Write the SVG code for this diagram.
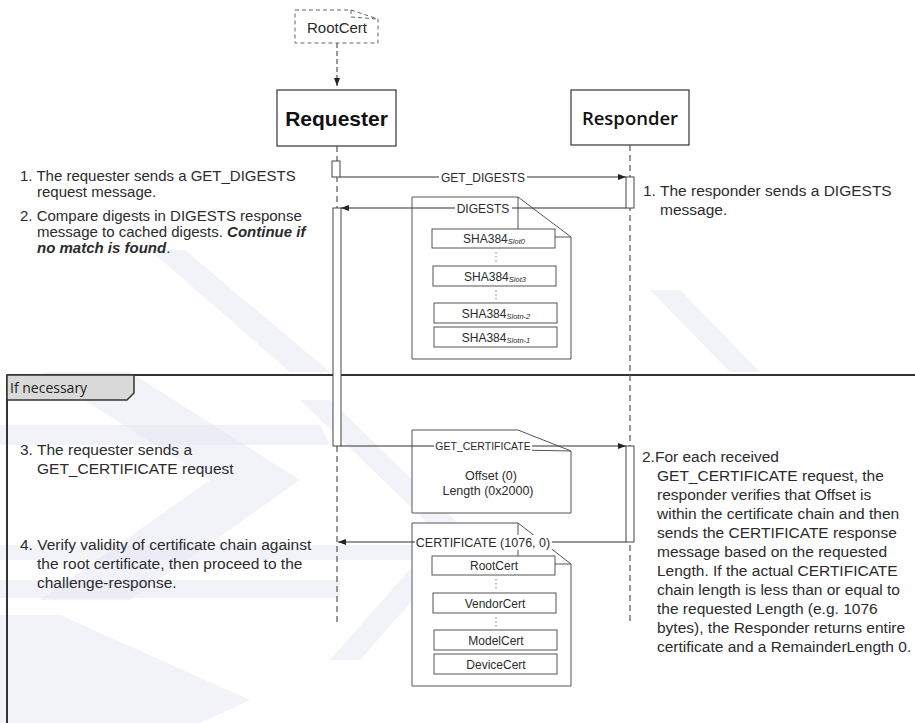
<svg xmlns="http://www.w3.org/2000/svg" width="915" height="723" viewBox="0 0 915 723">
<defs>
<marker id="ah" markerWidth="8" markerHeight="6" refX="8" refY="3" orient="auto" markerUnits="userSpaceOnUse"><path d="M0,0 L8,3 L0,6 z" fill="#222"/></marker>
</defs>
<style>
.t{font-family:"Liberation Sans",Arial,sans-serif;fill:#2b2b2b;}
.body{font-size:15.5px;}
.tight{font-size:15px;}
.c{text-anchor:middle;}
.note{fill:#fff;stroke:#555;stroke-width:1;}
.fold{fill:none;stroke:#555;stroke-width:1;}
.box{fill:#fff;stroke:#555;stroke-width:1;}
.life{stroke:#555;stroke-width:1.2;stroke-dasharray:6 4;fill:none;}
.msg{stroke:#333;stroke-width:1.2;fill:none;}
.bar{fill:#fff;stroke:#444;stroke-width:1;}
.wm{fill:#e8e8f4;opacity:0.55;}
.dots{stroke:#777;stroke-width:1;stroke-dasharray:1.5 2.5;}
.lbg{fill:#fff;}
.sub{font-size:7.5px;font-style:italic;}
</style>

<g id="watermark">
<polygon class="wm" points="150,250 185,250 330,372 290,372"/>
<polygon class="wm" points="40,372 130,372 300,480 130,600 40,600 210,480"/>
<polygon class="wm" points="0,425 320,425 330,445 0,445"/>
<polygon class="wm" points="0,545 420,545 420,560 0,560"/>
<polygon class="wm" points="0,580 340,580 340,598 0,598"/>
<polygon class="wm" points="0,615 60,615 250,700 200,723 0,723"/>
<polygon class="wm" points="300,400 330,400 470,535 360,660 330,660 440,535"/>
<polygon class="wm" points="650,290 680,290 760,372 730,372"/>
</g>

<g id="frame">
<line x1="7" y1="375" x2="915" y2="375" stroke="#333" stroke-width="2"/>
<line x1="7" y1="375" x2="7" y2="723" stroke="#333" stroke-width="2"/>
<path d="M7,375 L134,375 L134,393 L127,400 L7,400 Z" fill="#d9d9d9" stroke="#333" stroke-width="1.5"/>
<text x="10" y="393" style="font-family:'Open Sans','Noto Sans',sans-serif;font-size:14px;fill:#222;">If necessary</text>
</g>

<g id="rootcert">
<path d="M295,10 L351,10 L378,19 L378,43 L295,43 Z" fill="#fff" stroke="#666" stroke-width="1" stroke-dasharray="4 3"/>
<path d="M351,10 L351,17 L378,19" fill="none" stroke="#666" stroke-width="1" stroke-dasharray="4 3"/>
<text class="t c" x="337" y="33" style="font-size:15px;">RootCert</text>
</g>

<g id="requester">
<rect x="277" y="90" width="119" height="56" fill="#fff" stroke="#333" stroke-width="1.2"/>
<text class="t c" x="336.5" y="126" style="font-size:21px;font-weight:bold;fill:#111;">Requester</text>
</g>

<g id="responder">
<rect x="571" y="90" width="118" height="55" fill="#fff" stroke="#333" stroke-width="1.2"/>
<text x="630" y="125" text-anchor="middle" style="font-family:'Open Sans','Noto Sans',sans-serif;font-size:18.5px;font-weight:600;fill:#111;">Responder</text>
</g>

<g id="note-digests">
<path class="note" d="M412,197 L518,197 L571,237 L571,359 L412,359 Z"/>
<path class="fold" d="M518,197 L518,237 L571,237"/>
<rect class="box" x="432" y="229" width="123" height="19"/>
<text class="t c" x="494" y="243" style="font-size:12px;">SHA384<tspan class="sub" dy="1">Slot0</tspan></text>
<line class="dots" x1="496" y1="252" x2="496" y2="264"/>
<rect class="box" x="433" y="266" width="123" height="20"/>
<text class="t c" x="495" y="281" style="font-size:12px;">SHA384<tspan class="sub" dy="1">Slot3</tspan></text>
<line class="dots" x1="496" y1="290" x2="496" y2="302"/>
<rect class="box" x="434" y="303" width="123" height="20"/>
<text class="t c" x="496" y="318" style="font-size:12px;">SHA384<tspan class="sub" dy="1">Slotn-2</tspan></text>
<rect class="box" x="434" y="327" width="123" height="20"/>
<text class="t c" x="496" y="342" style="font-size:12px;">SHA384<tspan class="sub" dy="1">Slotn-1</tspan></text>
</g>

<g id="note-getcert">
<path class="note" d="M412,430 L518,430 L571,451 L571,513 L412,513 Z"/>
<path class="fold" d="M518,450 L571,451"/>
<text class="t c" x="491" y="480" style="font-size:12.5px;">Offset (0)</text>
<text class="t c" x="488" y="495" style="font-size:12.5px;">Length (0x2000)</text>
</g>

<g id="note-cert">
<path class="note" d="M412,523 L518,523 L571,564 L571,686 L412,686 Z"/>
<path class="fold" d="M518,523 L518,564 L571,564"/>
<rect class="box" x="432" y="556" width="123" height="19"/>
<text class="t c" x="494" y="570" style="font-size:12px;">RootCert</text>
<line class="dots" x1="496" y1="579" x2="496" y2="591"/>
<rect class="box" x="433" y="593" width="123" height="20"/>
<text class="t c" x="495" y="608" style="font-size:12px;">VendorCert</text>
<line class="dots" x1="496" y1="617" x2="496" y2="629"/>
<rect class="box" x="434" y="630" width="123" height="20"/>
<text class="t c" x="496" y="645" style="font-size:12px;">ModelCert</text>
<rect class="box" x="434" y="654" width="123" height="20"/>
<text class="t c" x="496" y="669" style="font-size:12px;">DeviceCert</text>
</g>

<g id="connectors">
<line class="life" x1="337" y1="43" x2="337" y2="86" stroke="#555" marker-end="url(#ah)" style="stroke-dasharray:5 3;"/>
<line class="life" x1="337" y1="146" x2="337" y2="624"/>
<line class="life" x1="630" y1="145" x2="630" y2="624"/>
<rect class="bar" x="332" y="161" width="8" height="16"/>
<rect class="bar" x="626" y="177" width="8" height="31"/>
<rect class="bar" x="333" y="208" width="8" height="238"/>
<rect class="bar" x="626" y="446" width="8" height="96"/>
<line class="msg" x1="340" y1="177" x2="626" y2="177" marker-end="url(#ah)"/>
<line class="msg" x1="626" y1="208" x2="341" y2="208" marker-end="url(#ah)"/>
<line class="msg" x1="341" y1="446" x2="626" y2="446" marker-end="url(#ah)"/>
<line class="msg" x1="626" y1="542" x2="338" y2="542" marker-end="url(#ah)"/>
<rect class="lbg" x="439" y="170" width="88" height="14"/>
<text class="t c" x="483" y="181.5" style="font-size:12px;">GET_DIGESTS</text>
<rect class="lbg" x="455" y="201" width="57" height="14"/>
<text class="t c" x="483" y="212.5" style="font-size:12px;">DIGESTS</text>
<rect class="lbg" x="434" y="440" width="98" height="12"/>
<text class="t c" x="483" y="450" style="font-size:10.5px;">GET_CERTIFICATE</text>
<rect class="lbg" x="415" y="535" width="137" height="15"/>
<text class="t c" x="483" y="546.5" style="font-size:12.5px;">CERTIFICATE (1076, 0)</text>
</g>

<g id="text-left-1">
<text class="t tight" x="20" y="181">1. The requester sends a GET_DIGESTS</text>
<text class="t tight" x="37" y="197">request message.</text>
</g>
<g id="text-left-2">
<text class="t tight" x="20" y="221">2. Compare digests in DIGESTS response</text>
<text class="t tight" x="37" y="237">message to cached digests. <tspan font-weight="bold" font-style="italic">Continue if</tspan></text>
<text class="t tight" x="37" y="253"><tspan font-weight="bold" font-style="italic">no match is found</tspan>.</text>
</g>
<g id="text-right-1">
<text class="t body" x="643" y="196">1. The responder sends a DIGESTS</text>
<text class="t body" x="660" y="215">message.</text>
</g>
<g id="text-left-3">
<text class="t body" x="20" y="455">3. The requester sends a</text>
<text class="t body" x="37" y="474">GET_CERTIFICATE request</text>
</g>
<g id="text-left-4">
<text class="t body" x="20" y="550">4. Verify validity of certificate chain against</text>
<text class="t body" x="37" y="569">the root certificate, then proceed to the</text>
<text class="t body" x="37" y="588">challenge-response.</text>
</g>
<g id="text-right-2">
<text class="t body" x="642" y="462">2.For each received</text>
<text class="t body" x="657" y="481">GET_CERTIFICATE request, the</text>
<text class="t body" x="657" y="500">responder verifies that Offset is</text>
<text class="t body" x="657" y="519">within the certificate chain and then</text>
<text class="t body" x="657" y="538">sends the CERTIFICATE response</text>
<text class="t body" x="657" y="557">message based on the requested</text>
<text class="t body" x="657" y="576">Length. If the actual CERTIFICATE</text>
<text class="t body" x="657" y="595">chain length is less than or equal to</text>
<text class="t body" x="657" y="614">the requested Length (e.g. 1076</text>
<text class="t body" x="657" y="633">bytes), the Responder returns entire</text>
<text class="t body" x="657" y="652">certificate and a RemainderLength 0.</text>
</g>
</svg>
